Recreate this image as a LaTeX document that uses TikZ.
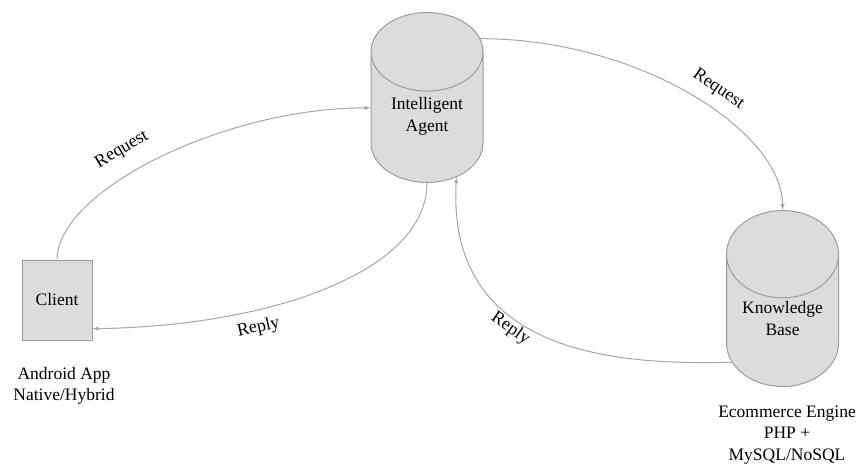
\documentclass[tikz,border=0pt]{standalone}
\usepackage{fontspec}
\setmainfont{Liberation Serif}
\usetikzlibrary{shapes.geometric}

\definecolor{boxfill}{HTML}{DCDCDC}
\definecolor{boxline}{HTML}{9C9C9C}
\definecolor{flowline}{HTML}{A6A6A6}

\newcommand{\nodefont}{\fontsize{17.5}{21.5}\selectfont}
\newcommand{\flowfont}{\fontsize{18}{21}\selectfont}

\tikzset{
  box/.style={draw=boxline, fill=boxfill, line width=1pt, minimum width=70pt, minimum height=80pt, font=\nodefont},
  store/.style={cylinder, shape border rotate=90, aspect=1, draw=boxline, fill=boxfill, line width=1pt,
    minimum width=112pt, minimum height=170pt, align=center, font=\nodefont,
    text depth=19pt, anchor=shape center},
  note/.style={align=center, font=\nodefont},
  flow/.style={draw=flowline, line width=1pt, -latex},
  flowlabel/.style={font=\flowfont, sloped, inner sep=0pt},
}

\begin{document}
\begin{tikzpicture}[x=1pt,y=-1pt]
  \useasboundingbox (0,0) rectangle (859,468);
  %% NODES
  % client
  \node[box] (client) at (57,300) {Client};
  \node[note] (clientnote) at (64,386) {Android App\\Native/Hybrid};

  % agent
  \node[store] (agent) at (427,97.5) {Intelligent\\Agent};

  % knowledge base
  \node[store] (kb) at (782.5,298.5) {Knowledge\\Base};
  \node[note] (kbnote) at (787,435) {Ecommerce Engine\\PHP +\\MySQL/NoSQL};

  %% ARROWS
  % requests
  \draw[flow] (client.north) .. controls +(0,-68) and +(-148,0) .. (agent.164)
    node[flowlabel, pos=0.43, above=16pt] {Request};
  \draw[flow] (agent.58) .. controls +(160,0) and +(0,-78) .. (kb.north)
    node[flowlabel, pos=0.55, above=11pt] {Request};

  % replies
  \draw[flow] (agent.south) .. controls +(0,87) and +(183,-3) .. (client.-39)
    node[flowlabel, pos=0.68, below=9pt] {Reply};
  \draw[flow] (kb.214) .. controls +(-113,3) and +(-10,178) .. (agent.-61)
    node[flowlabel, pos=0.6, below=2pt] {Reply};
\end{tikzpicture}
\end{document}
